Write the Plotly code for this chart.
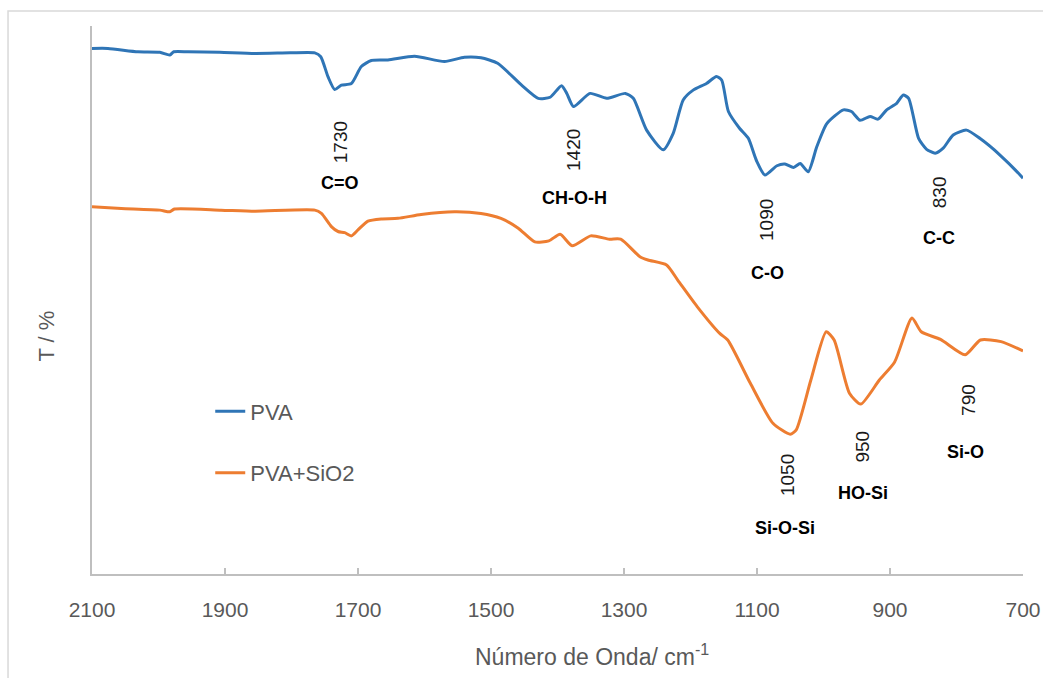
import plotly.graph_objects as go

# FTIR spectra: wavenumber (cm-1) vs transmittance (arbitrary T %)
pva_wn = [2100, 2076, 2031, 1998, 1983, 1977, 1956, 1908, 1855, 1802, 1765, 1756,
          1745, 1735, 1725, 1710, 1695, 1680, 1655, 1615, 1570, 1540, 1515, 1490,
          1454, 1429, 1411, 1394, 1386, 1376, 1351, 1326, 1298, 1286, 1266, 1241,
          1226, 1211, 1196, 1176, 1161, 1153, 1143, 1126, 1113, 1101, 1088, 1070,
          1058, 1045, 1035, 1023, 1010, 995, 970, 958, 945, 930, 918, 905, 890,
          880, 872, 857, 845, 832, 820, 805, 785, 765, 735, 702, 700]
pva_t = [95.9, 95.9, 95.3, 95.2, 94.7, 95.3, 95.3, 95.2, 95.0, 95.1, 95.1, 94.4,
         90.7, 88.4, 89.2, 89.5, 92.6, 93.7, 93.8, 94.5, 93.5, 94.3, 94.2, 93.2,
         89.2, 86.8, 87.0, 89.1, 87.7, 85.3, 87.7, 86.8, 87.7, 86.8, 81.0, 77.4,
         80.4, 86.5, 88.3, 89.5, 90.8, 90.1, 84.4, 81.3, 79.5, 75.5, 72.8, 74.5,
         74.8, 74.2, 74.9, 73.4, 78.0, 82.2, 84.7, 84.4, 82.8, 83.5, 83.0, 84.7, 85.9,
         87.4, 86.8, 79.5, 77.5, 76.8, 77.7, 80.1, 81.0, 79.5, 76.5, 72.5, 72.2]

sio2_wn = [2100, 2056, 1998, 1983, 1976, 1906, 1855, 1765, 1755, 1740, 1730, 1720,
           1710, 1700, 1685, 1665, 1640, 1605, 1555, 1515, 1485, 1459, 1434, 1413,
           1396, 1378, 1350, 1322, 1305, 1276, 1264, 1236, 1219, 1190, 1156, 1144,
           1110, 1076, 1050, 1041, 1019, 996, 984, 961, 944, 916, 893, 867, 853,
           824, 787, 764, 733, 700]
sio2_t = [67.0, 66.7, 66.4, 66.1, 66.6, 66.4, 66.2, 66.4, 65.8, 63.4, 62.5, 62.3,
          61.7, 62.8, 64.4, 64.8, 64.9, 65.6, 66.1, 65.8, 64.9, 63.1, 60.6, 60.8,
          62.0, 59.9, 61.7, 61.1, 61.1, 57.9, 57.3, 56.4, 53.6, 48.8, 43.9, 42.7,
          34.8, 27.5, 25.5, 26.3, 35.4, 44.2, 42.7, 33.0, 31.0, 35.4, 38.7, 46.7, 44.2,
          42.8, 40.0, 42.7, 42.4, 40.7]

tick_vals = [2100, 1900, 1700, 1500, 1300, 1100, 900, 700]

# Band annotations: (wavenumber, T position, text)
band_numbers = [(1727, 78.8, "1730"), (1375, 77.4, "1420"), (1085, 64.6, "1090"),
                (826, 69.7, "830"), (1053, 18.1, "1050"), (941, 23.2, "950"),
                (781, 31.8, "790")]
band_groups = [(1727, 71.4, "C=O"), (1374, 68.6, "CH-O-H"), (1084, 54.9, "C-O"),
               (826, 61.3, "C-C"), (1058, 8.4, "Si-O-Si"), (941, 14.8, "HO-Si"),
               (787, 22.3, "Si-O")]

BLUE = "#2F75B6"
ORANGE = "#ED7D31"
GREY = "#595959"
FONT = "Liberation Sans, Arial, sans-serif"

fig = go.Figure()
fig.add_trace(go.Scatter(x=pva_wn, y=pva_t, mode="lines", name="PVA",
                         legendgroup="a",
                         line=dict(color=BLUE, width=3, shape="spline", smoothing=0.6)))
fig.add_trace(go.Scatter(x=sio2_wn, y=sio2_t, mode="lines", name="PVA+SiO2",
                         legendgroup="b",
                         line=dict(color=ORANGE, width=3, shape="spline", smoothing=0.6)))

for x, y, t in band_numbers:
    fig.add_annotation(x=x, y=y, text=t, showarrow=False, textangle=-90,
                       font=dict(family=FONT, size=19, color="#1a1a1a"))
for x, y, t in band_groups:
    fig.add_annotation(x=x, y=y, text="<b>" + t + "</b>", showarrow=False,
                       font=dict(family=FONT, size=18, color="#000000"))

# axis titles
fig.add_annotation(xref="paper", yref="paper", x=0.537, y=-0.148,
                   xanchor="center", yanchor="middle",
                   text="Número de Onda/ cm<sup>-1</sup>", showarrow=False,
                   font=dict(family=FONT, size=23, color=GREY))
fig.add_annotation(xref="paper", yref="paper", x=-0.049, y=0.434,
                   xanchor="center", yanchor="middle",
                   text="T / %", showarrow=False, textangle=-90,
                   font=dict(family=FONT, size=22, color=GREY))

# light frame around the chart
fig.add_shape(type="rect", xref="paper", yref="paper",
              x0=-0.0902, x1=1.06, y0=-0.25, y1=1.0274,
              line=dict(color="#D9D9D9", width=1.5), layer="below")

fig.update_layout(
    width=1043, height=678,
    margin=dict(l=92, r=20, t=26, b=104, autoexpand=False),
    paper_bgcolor="white", plot_bgcolor="white",
    showlegend=True,
    legend=dict(x=0.127, y=0.335, xanchor="left", yanchor="top",
                bgcolor="rgba(0,0,0,0)", traceorder="grouped", tracegroupgap=30,
                font=dict(family=FONT, size=22, color=GREY)),
    xaxis=dict(range=[2100, 700], tickmode="array", tickvals=tick_vals,
               ticks="inside", ticklen=6, tickcolor="#BFBFBF", tickwidth=1.5,
               showline=True, linecolor="#BFBFBF", linewidth=1.5,
               showgrid=False, zeroline=False, ticklabelstandoff=16,
               automargin=False,
               tickfont=dict(family=FONT, size=21, color=GREY)),
    yaxis=dict(range=[0, 100], showticklabels=False, ticks="",
               showline=True, linecolor="#BFBFBF", linewidth=1.5,
               showgrid=False, zeroline=False, automargin=False),
)

fig.write_html("out.html")
